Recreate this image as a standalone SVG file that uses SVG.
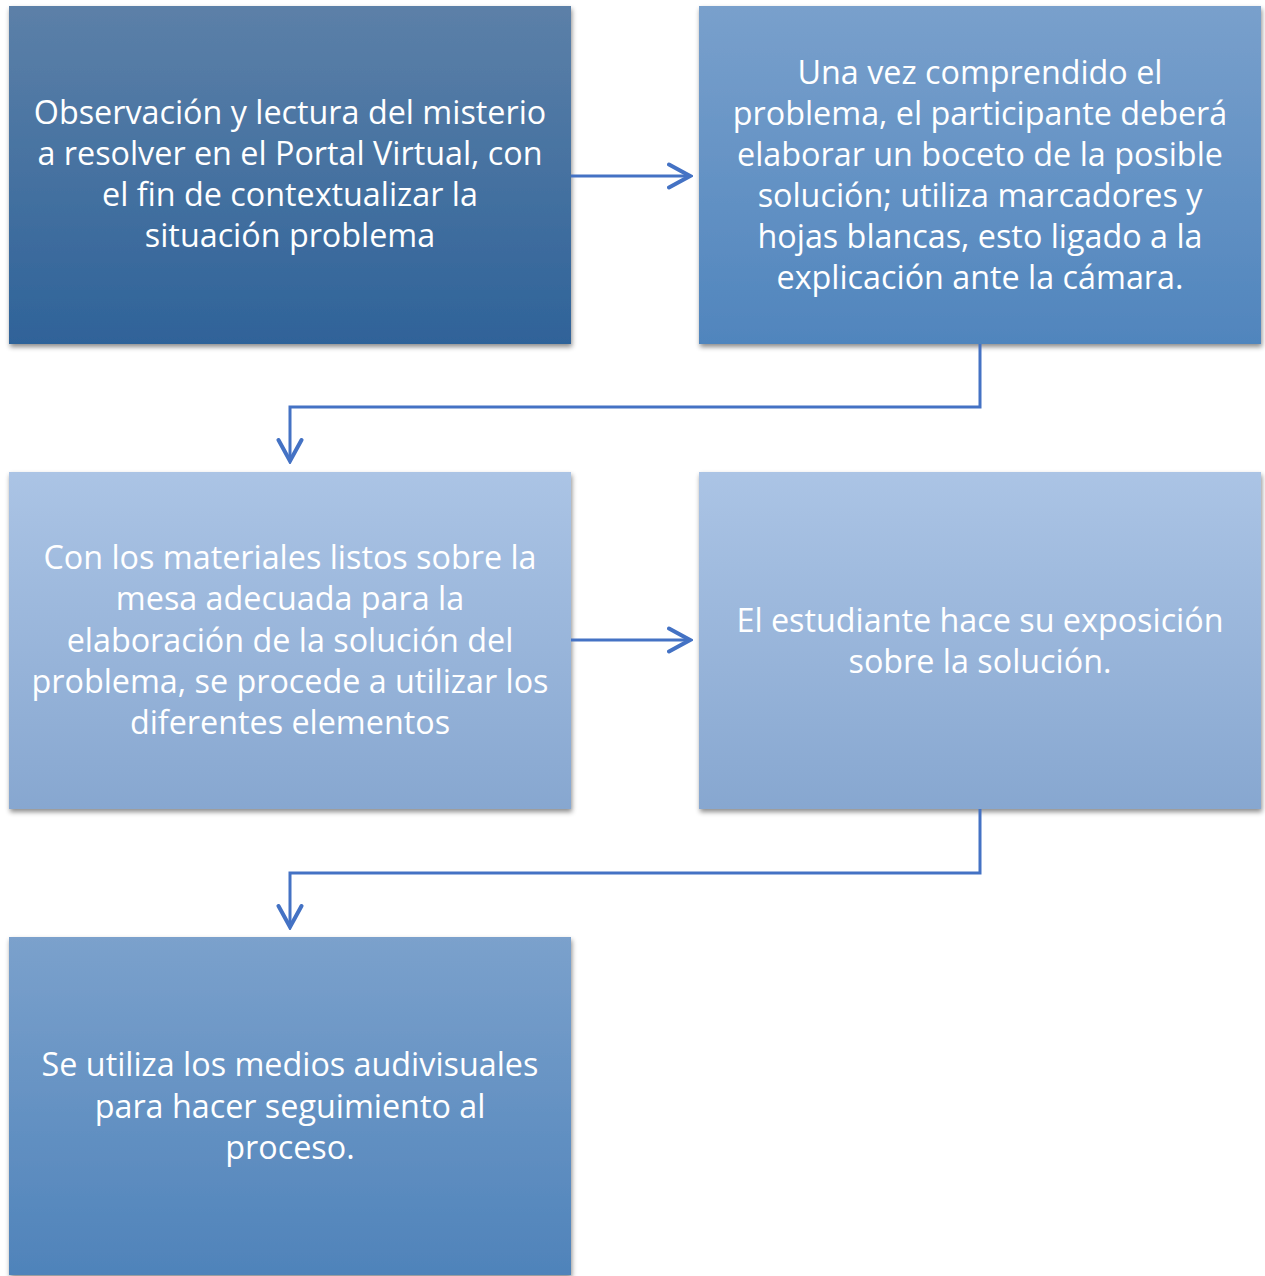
<svg xmlns="http://www.w3.org/2000/svg" width="1265" height="1276" viewBox="0 0 1265 1276">
<defs>
<linearGradient id="g1" x1="0" y1="0" x2="0" y2="1"><stop offset="0" stop-color="#5c80a8"/><stop offset="1" stop-color="#2f6399"/></linearGradient>
<linearGradient id="g2" x1="0" y1="0" x2="0" y2="1"><stop offset="0" stop-color="#79a0cc"/><stop offset="1" stop-color="#5085bd"/></linearGradient>
<linearGradient id="g3" x1="0" y1="0" x2="0" y2="1"><stop offset="0" stop-color="#abc4e5"/><stop offset="1" stop-color="#87a7d0"/></linearGradient>
<linearGradient id="g5" x1="0" y1="0" x2="0" y2="1"><stop offset="0" stop-color="#7ba1cc"/><stop offset="1" stop-color="#4f83ba"/></linearGradient>
<filter id="sh" x="-5%" y="-5%" width="112%" height="115%"><feDropShadow dx="1" dy="3" stdDeviation="2.5" flood-color="#000" flood-opacity="0.45"/></filter>
<marker id="arr" markerWidth="26" markerHeight="28" viewBox="0 0 26 28" refX="23" refY="14" orient="auto" markerUnits="userSpaceOnUse"><path d="M2,2.5 L23,14 L2,25.5" fill="none" stroke="#4472c4" stroke-width="4" stroke-linecap="round" stroke-linejoin="miter"/></marker>
</defs>
<style>
.t{font-family:"Open Sans","Noto Sans",sans-serif;font-size:32.3px;fill:#ffffff;text-anchor:middle}
.c{fill:none;stroke:#4472c4;stroke-width:3}
</style>
<g id="n1"><rect x="9" y="6" width="562" height="338" fill="url(#g1)" filter="url(#sh)"/>
<text class="t"><tspan x="290" y="124">Observación y lectura del misterio</tspan><tspan x="290" y="165">a resolver en el Portal Virtual, con</tspan><tspan x="290" y="206">el fin de contextualizar la</tspan><tspan x="290" y="247">situación problema</tspan></text></g>
<g id="n2"><rect x="699" y="6" width="562" height="338" fill="url(#g2)" filter="url(#sh)"/>
<text class="t"><tspan x="980" y="84">Una vez comprendido el</tspan><tspan x="980" y="125">problema, el participante deberá</tspan><tspan x="980" y="166">elaborar un boceto de la posible</tspan><tspan x="980" y="207">solución; utiliza marcadores y</tspan><tspan x="980" y="248">hojas blancas, esto ligado a la</tspan><tspan x="980" y="289">explicación ante la cámara.</tspan></text></g>
<g id="n3"><rect x="9" y="472" width="562" height="337" fill="url(#g3)" filter="url(#sh)"/>
<text class="t"><tspan x="290" y="569">Con los materiales listos sobre la</tspan><tspan x="290" y="610">mesa adecuada para la</tspan><tspan x="290" y="652">elaboración de la solución del</tspan><tspan x="290" y="693">problema, se procede a utilizar los</tspan><tspan x="290" y="734">diferentes elementos</tspan></text></g>
<g id="n4"><rect x="699" y="472" width="562" height="337" fill="url(#g3)" filter="url(#sh)"/>
<text class="t"><tspan x="980" y="632">El estudiante hace su exposición</tspan><tspan x="980" y="673">sobre la solución.</tspan></text></g>
<g id="n5"><rect x="9" y="937" width="562" height="338" fill="url(#g5)" filter="url(#sh)"/>
<text class="t"><tspan x="290" y="1076">Se utiliza los medios audivisuales</tspan><tspan x="290" y="1118">para hacer seguimiento al</tspan><tspan x="290" y="1159">proceso.</tspan></text></g>
<g id="connectors">
<path class="c" d="M571,176 H690" marker-end="url(#arr)"/>
<path class="c" d="M980,344 V407 H290 V461" marker-end="url(#arr)"/>
<path class="c" d="M571,640 H690" marker-end="url(#arr)"/>
<path class="c" d="M980,809 V873 H290 V927" marker-end="url(#arr)"/>
</g>
</svg>
